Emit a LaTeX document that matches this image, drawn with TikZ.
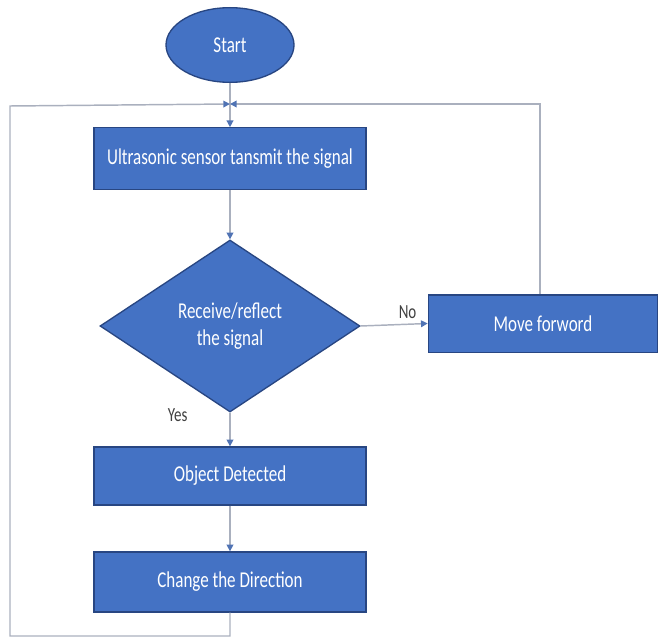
\documentclass[tikz,border=0pt]{standalone}
\usepackage{fontspec}
\setmainfont{Carlito}
\newfontfamily\boxfont[FakeStretch=0.75]{Carlito}
\usetikzlibrary{shapes.geometric,arrows.meta}
\definecolor{boxblue}{RGB}{68,114,196}
\definecolor{boxedge}{RGB}{40,70,130}
\definecolor{linegray}{RGB}{170,176,190}
\definecolor{tipblue}{RGB}{80,115,180}
\tikzset{
    boxtext/.style={text=white,font=\boxfont\fontsize{17}{20}\selectfont},
    startnode/.style={ellipse,draw=boxedge,fill=boxblue,line width=1pt,
        minimum width=96pt,minimum height=56pt,boxtext},
    procbox/.style={rectangle,draw=boxedge,fill=boxblue,line width=1pt,
        minimum width=204pt,minimum height=46pt,boxtext},
    decision/.style={diamond,draw=boxedge,fill=boxblue,line width=1pt,
        minimum width=195pt,minimum height=129pt,inner sep=0pt,
        align=center,boxtext},
    flow/.style={draw=linegray,line width=1.1pt,
        -{Triangle[length=5pt,width=5pt,color=tipblue]}},
    plainline/.style={draw=linegray,line width=1.1pt},
    answer/.style={text=black!75,font=\boxfont\fontsize{15}{17}\selectfont}
}
\begin{document}
\begin{tikzpicture}[x=0.75pt,y=-0.75pt]
    \useasboundingbox (0,0) rectangle (660,638);

    % Draw the nodes
    \node[startnode] (start) at (230,45) {Start};
    \node[procbox] (sensor) at (230,158.5) {Ultrasonic sensor tansmit the signal};
    \node[decision] (check) at (230,326) {Receive/reflect\\the signal};
    \node[procbox,minimum width=172pt,minimum height=43pt] (move) at (543,323.5) {Move forword};
    \node[procbox,minimum height=43.5pt] (object) at (230,476) {Object Detected};
    \node[procbox,minimum height=45pt] (turn) at (230,582) {Change the Direction};

    % Draw the loop corners
    \coordinate (join) at (230,104);
    \coordinate (bottomleft) at (10,636);
    \coordinate (topleft) at (10,106);
    \coordinate (topright) at (540,104);
    \coordinate (turnbelow) at (230,636);

    % Draw the connectors
    \draw[plainline] (start) -- (join);
    \draw[flow] (join) -- (sensor);
    \draw[flow] (sensor) -- (check);
    \draw[flow] (check.east) -- (move.west) node[answer,pos=0.7,above] {No};
    \draw[flow] (check.south) -- (object) node[answer,pos=0,left,xshift=-28pt,yshift=-2pt] {Yes};
    \draw[flow] (object) -- (turn);

    % Draw the loops back to the top
    \draw[flow] (turn.south) -- (turnbelow) -- (bottomleft) -- (topleft) -- (join);
    \draw[flow] (move.north -| topright) -- (topright) -- (join);
\end{tikzpicture}
\end{document}
